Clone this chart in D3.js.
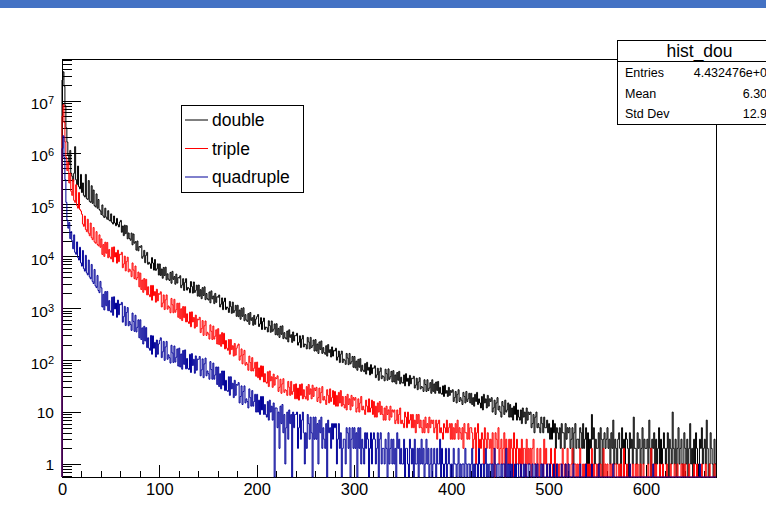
<!DOCTYPE html>
<html>
<head>
<meta charset="utf-8">
<script src="https://cdn.jsdelivr.net/npm/d3@7"></script>
<style>
  body { margin: 0; background: #fff; }
  svg { display: block; font-family: "Liberation Sans", Arial, Helvetica, sans-serif; }
</style>
</head>
<body>
<svg id="chart" width="766" height="510"></svg>
<script>
// one bin per unit, x runs 0..672
const binWidth = 1;
const xMax = 672;

const doubleCounts = [
  25000000, 36000000, 19000000, 8000000, 3000000, 1600000, 900000, 600000, 1100000, 400000,
  350000, 280000, 400000, 1300000, 300000, 240000, 550000, 220000, 200000, 380000,
  170000, 260000, 150000, 140000, 380000, 130000, 125000, 290000, 115000, 110000,
  230000, 105000, 190000, 95000, 90000, 160000, 85000, 125000, 80000, 75000,
  64000, 98000, 60000, 56000, 85000, 57000, 52000, 76000, 50000, 48000,
  66000, 45000, 42000, 60000, 44000, 39000, 54000, 41000, 37000, 46000,
  49400, 29200, 38500, 25100, 40000, 27400, 39100, 21800, 28300, 22100,
  20500, 28200, 16700, 27000, 18000, 19200, 13200, 19800, 12800, 15500,
  14950, 16100, 9200, 10100, 13050, 7550, 10500, 11950, 7050, 7700,
  7200, 5850, 9470, 7450, 5440, 8710, 5375, 5760, 7190, 4370,
  7150, 4280, 5720, 3790, 6125, 4275, 6210, 3510, 4620, 3655,
  3440, 4920, 3040, 5150, 3610, 4090, 2910, 4560, 3060, 3910,
  3830, 4240, 2490, 2810, 3720, 2205, 3150, 3720, 2240, 2520,
  2410, 1990, 3280, 2625, 1960, 3215, 2020, 2210, 2790, 1715,
  2810, 1700, 2290, 1530, 2500, 1765, 2590, 1465, 1930, 1530,
  1445, 2065, 1275, 2165, 1520, 1725, 1230, 1935, 1300, 1670,
  1635, 1805, 1060, 1200, 1585, 940, 1340, 1575, 945, 1060,
  1010, 830, 1355, 1080, 800, 1315, 825, 900, 1140, 700,
  1145, 690, 925, 615, 1000, 700, 1025, 575, 755, 595,
  560, 790, 490, 830, 585, 660, 470, 730, 490, 620,
  690, 760, 445, 500, 660, 390, 555, 650, 390, 435,
  425, 350, 575, 465, 345, 570, 360, 395, 500, 310,
  505, 305, 410, 275, 450, 315, 460, 260, 340, 270,
  255, 365, 225, 385, 275, 310, 220, 350, 235, 300,
  295, 330, 195, 220, 295, 175, 255, 300, 180, 205,
  200, 165, 275, 225, 165, 275, 175, 190, 245, 150,
  250, 150, 205, 135, 225, 160, 235, 135, 175, 140,
  130, 190, 120, 200, 140, 160, 115, 180, 120, 155,
  150, 170, 100, 115, 150, 90, 130, 150, 90, 105,
  100, 83, 135, 110, 82, 135, 85, 93, 118, 73,
  118, 71, 96, 64, 104, 73, 107, 61, 80, 64,
  60, 86, 54, 91, 64, 73, 52, 82, 55, 71,
  70, 78, 46, 52, 70, 41, 60, 71, 44, 50,
  48, 40, 67, 55, 41, 68, 43, 48, 61, 38,
  63, 38, 52, 35, 58, 41, 61, 35, 47, 37,
  36, 52, 32, 55, 39, 45, 32, 51, 35, 45,
  44, 49, 29, 33, 45, 27, 38, 46, 28, 31,
  30, 25, 42, 34, 25, 42, 26, 29, 37, 23,
  42, 25, 35, 23, 38, 26, 39, 23, 30, 23,
  22, 32, 20, 33, 23, 26, 20, 30, 21, 26,
  24, 27, 16, 19, 25, 15, 22, 27, 16, 19,
  17, 14, 24, 20, 15, 25, 16, 18, 23, 15,
  23, 14, 19, 13, 22, 16, 24, 14, 18, 15,
  12, 20, 11, 22, 15, 18, 12, 21, 13, 18,
  16, 19, 10, 12, 17, 9, 15, 19, 11, 13,
  10, 8, 16, 13, 9, 17, 10, 11, 15, 8,
  14, 8, 12, 7, 13, 9, 15, 7, 11, 8,
  7, 11, 6, 12, 8, 10, 6, 12, 7, 10,
  9, 10, 5, 6, 9, 4, 8, 10, 5, 6,
  5, 4, 8, 6, 4, 8, 5, 5, 7, 4,
  6, 3, 5, 3, 7, 4, 6, 2, 5, 4,
  3, 5, 2, 6, 4, 4, 2, 6, 3, 5,
  4, 5, 2, 3, 5, 1, 4, 6, 2, 3,
  3, 2, 5, 4, 2, 6, 2, 3, 5, 1,
  4, 1, 3, 2, 9, 3, 5, 1, 3, 2,
  2, 4, 1, 5, 3, 0, 3, 4, 2, 3,
  5, 2, 3, 1, 4, 2, 7, 1, 3, 2,
  1, 3, 4, 2, 0, 5, 2, 3, 1, 4,
  3, 2, 0, 4, 2, 3, 1, 8, 2, 2,
  1, 4, 2, 3, 0, 2, 5, 1, 3, 2,
  2, 3, 1, 7, 2, 0, 3, 2, 4, 1,
  3, 1, 2, 5, 0, 3, 1, 2, 4, 2,
  1, 2, 4, 0, 3, 2, 1, 10, 2, 1,
  3, 0, 2, 5, 1, 2, 3, 1, 0, 4,
  2, 1, 3, 0, 2, 6, 1, 2, 0, 3,
  1, 4, 2, 1, 0, 3, 2, 5, 1, 2,
  3, 1, 7, 2, 0, 1, 4, 2, 1, 0,
  3, 1
];

const tripleCounts = [
  5000000, 8400000, 3800000, 1600000, 800000, 450000, 650000, 260000, 400000, 180000,
  150000, 300000, 120000, 110000, 240000, 95000, 85000, 170000, 80000, 75000,
  65000, 42000, 38000, 60000, 33000, 30000, 52000, 28000, 25000, 44000,
  23000, 21000, 36000, 19000, 18000, 30000, 17000, 16000, 26000, 15000,
  21700, 10900, 16900, 10000, 18800, 11500, 18600, 9400, 13600, 9700,
  8970, 14950, 7840, 15260, 9750, 11850, 7400, 13190, 7900, 11040,
  10800, 12000, 6050, 7130, 10140, 5250, 7920, 9660, 5020, 5670,
  5250, 4060, 7480, 5460, 3720, 6530, 3570, 3900, 5000, 2590,
  4760, 2300, 3510, 2030, 3750, 2260, 3620, 1810, 2600, 1820,
  1670, 2760, 1430, 2760, 1750, 2100, 1310, 2330, 1390, 1920,
  1860, 2080, 1060, 1260, 1810, 945, 1450, 1810, 960, 1110,
  1030, 820, 1550, 1170, 820, 1490, 840, 940, 1250, 670,
  1260, 630, 980, 580, 1080, 660, 1075, 545, 785, 550,
  510, 845, 440, 855, 545, 665, 415, 740, 445, 620,
  600, 670, 340, 405, 580, 300, 460, 570, 300, 345,
  320, 255, 480, 360, 250, 455, 255, 290, 385, 205,
  405, 200, 310, 185, 340, 205, 330, 165, 240, 170,
  155, 250, 130, 250, 160, 190, 120, 210, 125, 170,
  190, 205, 100, 120, 165, 85, 128, 155, 80, 90,
  83, 64, 120, 90, 62, 112, 62, 70, 91, 49,
  92, 46, 71, 42, 78, 48, 77, 38, 55, 38,
  36, 60, 31, 62, 40, 48, 30, 54, 33, 46,
  44, 50, 25, 30, 43, 23, 35, 44, 24, 27,
  26, 21, 39, 30, 21, 39, 22, 25, 34, 18,
  35, 18, 29, 17, 34, 21, 35, 18, 27, 20,
  18, 31, 17, 34, 22, 28, 18, 33, 20, 29,
  26, 30, 16, 19, 29, 15, 24, 31, 17, 20,
  17, 14, 27, 21, 15, 28, 16, 19, 26, 14,
  25, 13, 21, 13, 24, 15, 26, 13, 20, 14,
  12, 20, 11, 22, 14, 18, 11, 21, 13, 19,
  17, 19, 10, 12, 18, 10, 15, 20, 11, 13,
  11, 9, 17, 13, 10, 18, 10, 12, 17, 9,
  16, 8, 13, 8, 15, 10, 16, 9, 13, 9,
  7, 12, 7, 13, 9, 11, 7, 13, 8, 11,
  10, 11, 6, 7, 11, 6, 9, 12, 6, 7,
  6, 5, 10, 8, 5, 10, 6, 7, 9, 5,
  9, 5, 7, 4, 9, 6, 9, 5, 7, 5,
  4, 7, 4, 8, 5, 6, 4, 8, 5, 7,
  6, 7, 4, 5, 7, 3, 6, 7, 4, 5,
  4, 3, 6, 5, 4, 7, 4, 5, 6, 3,
  6, 3, 5, 3, 6, 4, 7, 3, 5, 4,
  3, 5, 2, 6, 4, 4, 3, 6, 3, 5,
  5, 4, 2, 3, 5, 1, 4, 6, 2, 3,
  2, 4, 3, 1, 5, 3, 2, 4, 3, 2,
  3, 1, 4, 2, 0, 4, 3, 2, 5, 1,
  2, 3, 1, 2, 4, 0, 3, 2, 1, 3,
  1, 3, 2, 0, 4, 2, 1, 3, 2, 1,
  2, 0, 3, 1, 2, 2, 0, 3, 1, 2,
  1, 2, 0, 2, 3, 1, 1, 0, 2, 1,
  0, 2, 1, 1, 0, 3, 1, 2, 0, 1,
  1, 0, 2, 1, 0, 1, 2, 0, 1, 1,
  0, 1, 1, 0, 2, 1, 0, 1, 0, 2,
  1, 0, 0, 1, 2, 0, 1, 1, 0, 1,
  0, 1, 2, 0, 0, 1, 0, 1, 1, 0,
  1, 0, 1, 0, 2, 0, 1, 0, 0, 1,
  0, 1, 0, 1, 0, 0, 2, 0, 1, 0,
  1, 0, 0, 1, 0, 1, 0, 0, 1, 1,
  0, 0, 1, 0, 1, 0, 0, 2, 0, 0,
  1, 0, 0, 1, 0, 0, 1, 0, 0, 1,
  0, 1, 0, 0, 1, 0, 0, 1, 0, 0,
  0, 0, 1, 0, 0, 2, 0, 0, 1, 0,
  1, 0, 0, 0, 1, 0, 0, 1, 0, 0,
  0, 1, 0, 0, 0, 1, 0, 0, 0, 1,
  0, 0, 1, 0, 0, 0, 1, 0, 1, 0,
  1, 0, 0, 0, 1, 0, 0, 0, 0, 1,
  0, 0, 1, 0, 0, 0, 0, 1, 0, 0,
  0, 1, 0, 0, 0, 1, 0, 0, 0, 0,
  1, 0
];

const quadrupleCounts = [
  1200000, 2100000, 800000, 300000, 110000, 50000, 35000, 45000, 22000, 30000,
  20000, 14000, 26000, 12000, 11000, 19000, 9500, 8500, 15000, 7500,
  6500, 13000, 5800, 5200, 10500, 4800, 4400, 8500, 4000, 3700,
  7000, 3300, 3000, 5600, 2700, 2500, 4300, 2200, 2000, 3300,
  2480, 1060, 1860, 930, 2100, 1120, 2110, 900, 1410, 890,
  840, 1640, 730, 1670, 970, 1260, 670, 1440, 750, 1210,
  1170, 1300, 540, 690, 1090, 465, 830, 1035, 460, 555,
  490, 375, 810, 560, 360, 735, 350, 430, 600, 270,
  600, 250, 420, 205, 450, 235, 425, 175, 270, 170,
  155, 300, 130, 295, 170, 220, 115, 245, 130, 205,
  240, 270, 112, 145, 230, 99, 180, 230, 104, 127,
  112, 88, 194, 138, 90, 188, 92, 114, 165, 77,
  171, 74, 132, 67, 154, 83, 158, 68, 108, 69,
  66, 130, 58, 134, 79, 104, 56, 121, 64, 105,
  104, 118, 50, 65, 106, 46, 85, 110, 50, 62,
  55, 43, 94, 66, 43, 88, 43, 52, 74, 34,
  74, 31, 55, 28, 62, 33, 62, 26, 41, 26,
  25, 48, 21, 48, 28, 36, 19, 41, 21, 34,
  33, 37, 15, 20, 32, 14, 25, 32, 15, 18,
  16, 12, 28, 19, 13, 26, 13, 16, 22, 10,
  22, 10, 17, 9, 20, 11, 20, 9, 14, 9,
  8, 16, 7, 17, 10, 13, 7, 15, 0, 12,
  12, 5, 10, 2, 13, 6, 14, 4, 9, 1,
  5, 10, 3, 11, 6, 9, 0, 10, 5, 9,
  9, 10, 2, 5, 9, 3, 7, 10, 4, 1,
  4, 2, 9, 6, 3, 8, 4, 0, 8, 3,
  8, 3, 6, 1, 7, 4, 8, 2, 5, 3,
  2, 6, 0, 7, 4, 5, 2, 6, 3, 6,
  5, 6, 1, 3, 6, 2, 4, 0, 2, 3,
  3, 1, 5, 4, 2, 5, 0, 3, 5, 2,
  5, 2, 4, 0, 5, 2, 5, 1, 3, 2,
  1, 4, 2, 4, 3, 0, 2, 4, 1, 3,
  4, 3, 1, 2, 4, 0, 3, 4, 1, 2,
  2, 1, 3, 2, 0, 4, 1, 2, 3, 1,
  3, 1, 2, 0, 4, 2, 3, 1, 2, 1,
  1, 3, 0, 2, 2, 1, 0, 3, 2, 1,
  2, 0, 3, 1, 1, 2, 0, 2, 1, 3,
  1, 2, 0, 1, 3, 1, 2, 0, 1, 2,
  0, 1, 2, 1, 0, 2, 1, 1, 3, 0,
  2, 1, 0, 1, 2, 0, 1, 2, 1, 0,
  1, 0, 2, 1, 1, 0, 1, 2, 0, 1,
  0, 1, 1, 0, 2, 1, 0, 1, 1, 0,
  1, 2, 0, 1, 0, 1, 1, 0, 2, 1,
  0, 1, 1, 0, 1, 2, 0, 1, 0, 1,
  1, 0, 1, 0, 2, 1, 0, 1, 1, 0,
  0, 1, 0, 1, 1, 0, 2, 0, 1, 0,
  1, 0, 1, 0, 0, 1, 0, 1, 1, 0,
  0, 1, 0, 0, 1, 0, 1, 0, 0, 1,
  1, 0, 0, 1, 0, 0, 1, 0, 1, 0,
  0, 0, 1, 0, 1, 0, 0, 0, 1, 0,
  0, 1, 0, 0, 0, 1, 0, 0, 1, 0,
  0, 0, 0, 1, 0, 0, 0, 1, 0, 0,
  1, 0, 0, 0, 0, 1, 0, 0, 0, 0,
  0, 0, 1, 0, 0, 0, 0, 0, 1, 0,
  0, 0, 0, 0, 1, 0, 0, 0, 0, 0,
  0, 1, 0, 0, 0, 0, 0, 0, 0, 0,
  0, 0, 0, 0, 0, 0, 1, 0, 0, 0,
  0, 0, 0, 0, 0, 0, 0, 0, 0, 0,
  0, 0, 0, 1, 0, 0, 0, 0, 0, 0,
  0, 0, 0, 0, 0, 0, 0, 0, 0, 0,
  0, 0, 0, 0, 0, 0, 0, 1, 0, 0,
  0, 0, 0, 0, 0, 0, 0, 0, 0, 0,
  0, 0, 0, 0, 0, 0, 0, 0, 0, 0,
  0, 0, 0, 0, 0, 0, 0, 0, 0, 0,
  0, 0, 0, 0, 0, 0, 0, 0, 0, 0,
  0, 0, 0, 0, 0, 1, 0, 0, 0, 0,
  0, 0, 0, 0, 0, 0, 0, 0, 0, 0,
  0, 0
];

const seriesNames = ["double", "triple", "quadruple"];
const seriesColors = ["#000000", "#ff0000", "#000099"];
const xMajorTicks = [0, 100, 200, 300, 400, 500, 600];
const yDecades = [1, 10, 100, 1e3, 1e4, 1e5, 1e6, 1e7];
const statsTitle = "hist_dou";
const statsLabels = ["Entries", "Mean", "Std Dev"];
const statsValues = ["4.432476e+07", "6.301", "12.93"];

const svg = d3.select("#chart");

// window title strip at the top
svg.append("rect").attr("x", 0).attr("y", 0).attr("width", 766).attr("height", 8).attr("fill", "#4472c4");

// frame
const fLeft = 62, fRight = 716, fTop = 59, fBottom = 477;
const x = d3.scaleLinear().domain([0, xMax]).range([fLeft, fRight]);
const y = d3.scaleLog().domain([0.5615, 6.36e7]).range([fBottom, fTop]);

svg.append("rect")
    .attr("x", fLeft).attr("y", fTop)
    .attr("width", fRight - fLeft).attr("height", fBottom - fTop)
    .attr("fill", "none").attr("stroke", "#000").attr("stroke-width", 1)
    .attr("shape-rendering", "crispEdges");

// x axis: minor every 20, major every 100, ticks point inwards
const xMinor = d3.range(0, xMax, 20);
svg.append("g").attr("transform", `translate(0,${fBottom})`)
    .call(d3.axisBottom(x).tickValues(xMinor).tickSize(-6).tickSizeOuter(0).tickFormat(""))
    .call(g => g.select(".domain").remove());
svg.append("g").attr("transform", `translate(0,${fBottom})`)
    .call(d3.axisBottom(x).tickValues(xMajorTicks).tickSize(-12).tickSizeOuter(0).tickPadding(6).tickFormat(d3.format("d")))
    .call(g => g.select(".domain").remove())
    .call(g => g.selectAll("text").attr("fill", "#000").attr("font-size", 16.5).attr("font-family", null));

// y axis: log, minor at 2..9 of each decade
const yMinor = [];
for (let k = -1; k <= 7; k++) {
  for (let m = 2; m <= 9; m++) {
    const v = m * Math.pow(10, k);
    if (v >= y.domain()[0] && v <= y.domain()[1]) yMinor.push(v);
  }
}
svg.append("g").attr("transform", `translate(${fLeft},0)`)
    .call(d3.axisLeft(y).tickValues(yMinor).tickSize(-10).tickSizeOuter(0).tickFormat(""))
    .call(g => g.select(".domain").remove());
svg.append("g").attr("transform", `translate(${fLeft},0)`)
    .call(d3.axisLeft(y).tickValues(yDecades).tickSize(-19).tickSizeOuter(0).tickPadding(8).tickFormat(d => d))
    .call(g => g.select(".domain").remove())
    .call(g => g.selectAll("text").each(function(d) {
      const t = d3.select(this).attr("fill", "#000").attr("font-size", 15.5).attr("font-family", null);
      if (d >= 100) {
        const e = Math.round(Math.log10(d));
        t.text("").attr("dy", "0.52em");
        t.append("tspan").text("10");
        t.append("tspan").attr("font-size", 11).attr("dy", -5).text(e);
      } else {
        t.attr("dy", "0.36em");
      }
    }));

svg.selectAll(".tick line").attr("stroke", "#000").attr("shape-rendering", "crispEdges");

// histograms, clipped to the frame
svg.append("clipPath").attr("id", "frameClip")
  .append("rect").attr("x", fLeft - 1).attr("y", fTop - 1)
  .attr("width", fRight - fLeft + 2).attr("height", fBottom - fTop + 2);

function histPath(vals) {
  let d = `M${x(0)},${fBottom}`;
  vals.forEach((v, i) => {
    const yy = v > 0 ? y(v) : fBottom;
    d += `V${yy.toFixed(2)}H${x((i + 1) * binWidth).toFixed(2)}`;
  });
  d += `V${fBottom}`;
  return d;
}

const allCounts = [doubleCounts, tripleCounts, quadrupleCounts];
svg.append("g").attr("clip-path", "url(#frameClip)")
  .selectAll("path")
  .data(allCounts)
  .enter().append("path")
  .attr("d", d => histPath(d))
  .attr("fill", "none")
  .attr("stroke", (d, i) => seriesColors[i])
  .attr("stroke-width", 1);

// legend
const legend = svg.append("g");
legend.append("rect")
    .attr("x", 181.5).attr("y", 105.5).attr("width", 122).attr("height", 87)
    .attr("fill", "#fff").attr("stroke", "#000").attr("stroke-width", 1);
const legendY = [120, 148.5, 177];
seriesNames.forEach((name, i) => {
  legend.append("line")
    .attr("x1", 185).attr("x2", 208)
    .attr("y1", legendY[i]).attr("y2", legendY[i])
    .attr("stroke", seriesColors[i]).attr("stroke-width", 1);
  legend.append("text")
    .attr("x", 212).attr("y", legendY[i] + 6)
    .attr("font-size", 17.5).attr("fill", "#000")
    .text(name);
});

// statistics box (runs off the right edge, as in the original canvas)
const stats = svg.append("g");
stats.append("rect")
    .attr("x", 617.5).attr("y", 40.5).attr("width", 165).attr("height", 84)
    .attr("fill", "#fff").attr("stroke", "#000").attr("stroke-width", 1);
stats.append("line")
    .attr("x1", 617.5).attr("x2", 782).attr("y1", 61.5).attr("y2", 61.5)
    .attr("stroke", "#000").attr("stroke-width", 1);
stats.append("text")
    .attr("x", 699.5).attr("y", 57).attr("text-anchor", "middle")
    .attr("font-size", 17.5).attr("fill", "#000")
    .text(statsTitle);
const statsY = [77, 97.5, 117.5];
statsLabels.forEach((lab, i) => {
  stats.append("text").attr("x", 625).attr("y", statsY[i])
    .attr("font-size", 12.5).attr("fill", "#000").text(lab);
  stats.append("text").attr("x", 774).attr("y", statsY[i])
    .attr("text-anchor", "end")
    .attr("font-size", 12.5).attr("fill", "#000").text(statsValues[i]);
});
</script>
</body>
</html>
